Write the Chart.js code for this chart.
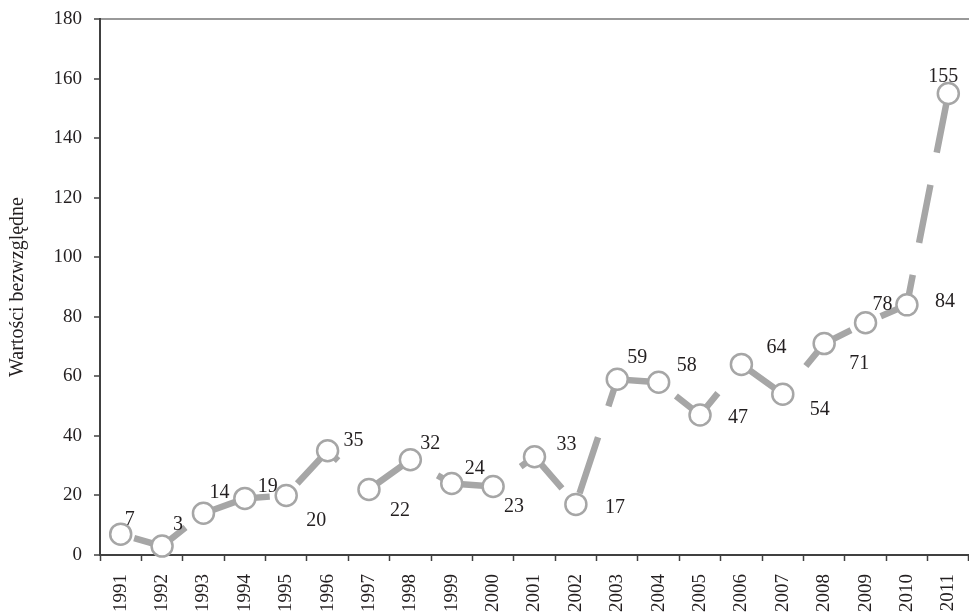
<!DOCTYPE html>
<html>
<head>
<meta charset="utf-8">
<script src="https://cdn.jsdelivr.net/npm/chart.js@4/dist/chart.umd.min.js"></script>
<style>
html,body{margin:0;padding:0;background:#fff;overflow:hidden;}
canvas{display:block;}
</style>
</head>
<body>
<canvas id="c" width="969" height="613"></canvas>
<script>
// ---- data ----
const years = ['1991','1992','1993','1994','1995','1996','1997','1998','1999','2000','2001','2002','2003','2004','2005','2006','2007','2008','2009','2010','2011'];
const values = [7,3,14,19,20,35,22,32,24,23,33,17,59,58,47,64,54,71,78,84,155];
const yTicks = [0,20,40,60,80,100,120,140,160,180];
const yTitle = 'Wartości bezwzględne';

// ---- label placement (pixel offsets from point) ----
const labelDx = [9,16,16,23,30,26,31,20,23,21,32,39,20,28,38,35,37,35,17,38,-5];
const labelDy = [-16,-23,-22,-13,24,-12,20,-18,-17,18,-14,2,-23,-18,1,-18,14,18,-20,-5,-18];

const TEXT = '#231f20';
const AXIS = '#404040';
const LINE = '#a6a6a6';
const SERIF = '"Liberation Serif", "Times New Roman", serif';

const labelPlugin = {
  id: 'valueLabels',
  afterDatasetsDraw(chart) {
    const ctx = chart.ctx;
    const meta = chart.getDatasetMeta(0);
    ctx.save();
    ctx.font = '20px ' + SERIF;
    ctx.fillStyle = TEXT;
    ctx.textAlign = 'center';
    ctx.textBaseline = 'alphabetic';
    meta.data.forEach((pt, i) => {
      ctx.fillText(String(values[i]), pt.x + labelDx[i], pt.y + labelDy[i] + 7);
    });
    ctx.restore();
  }
};

function noPad(scale) {
  scale.paddingLeft = 0; scale.paddingRight = 0;
  scale.paddingTop = 0; scale.paddingBottom = 0;
}

new Chart(document.getElementById('c'), {
  type: 'line',
  data: {
    labels: years,
    datasets: [{
      data: values,
      borderColor: LINE,
      borderWidth: 6.5,
      borderDash: [59, 32.8],
      borderDashOffset: 77.8,
      borderCapStyle: 'butt',
      tension: 0,
      clip: false,
      pointRadius: 10.5,
      pointBorderWidth: 2.5,
      pointBackgroundColor: '#ffffff',
      pointBorderColor: LINE
    }]
  },
  options: {
    responsive: false,
    animation: false,
    devicePixelRatio: 1,
    layout: { autoPadding: false, padding: { top: 19, left: 0, right: 0, bottom: 0 } },
    plugins: { legend: { display: false }, tooltip: { enabled: false } },
    scales: {
      x: {
        offset: true,
        grid: { offset: true, drawOnChartArea: false, tickColor: AXIS, tickLength: 6, tickWidth: 1.5 },
        border: { color: AXIS, width: 2 },
        ticks: {
          minRotation: 90, maxRotation: 90, autoSkip: false,
          padding: 13, color: TEXT,
          font: { family: SERIF, size: 19 }
        },
        afterFit(scale) { scale.height = 58; noPad(scale); }
      },
      y: {
        min: 0, max: 180,
        afterBuildTicks(scale) { scale.ticks = yTicks.map(v => ({ value: v })); },
        grid: {
          color: (c) => (c.tick && c.tick.value === 180) ? '#999999' : 'rgba(0,0,0,0)',
          lineWidth: 2,
          tickColor: AXIS, tickLength: 6, tickWidth: 1.5
        },
        border: { color: AXIS, width: 2 },
        ticks: {
          padding: 12, color: TEXT,
          font: { family: SERIF, size: 19 }
        },
        title: {
          display: true, text: yTitle, color: TEXT,
          padding: { top: 6, bottom: 0 },
          font: { family: SERIF, size: 20 }
        },
        afterFit(scale) { scale.width = 100; noPad(scale); }
      }
    }
  },
  plugins: [labelPlugin]
});
</script>
</body>
</html>
